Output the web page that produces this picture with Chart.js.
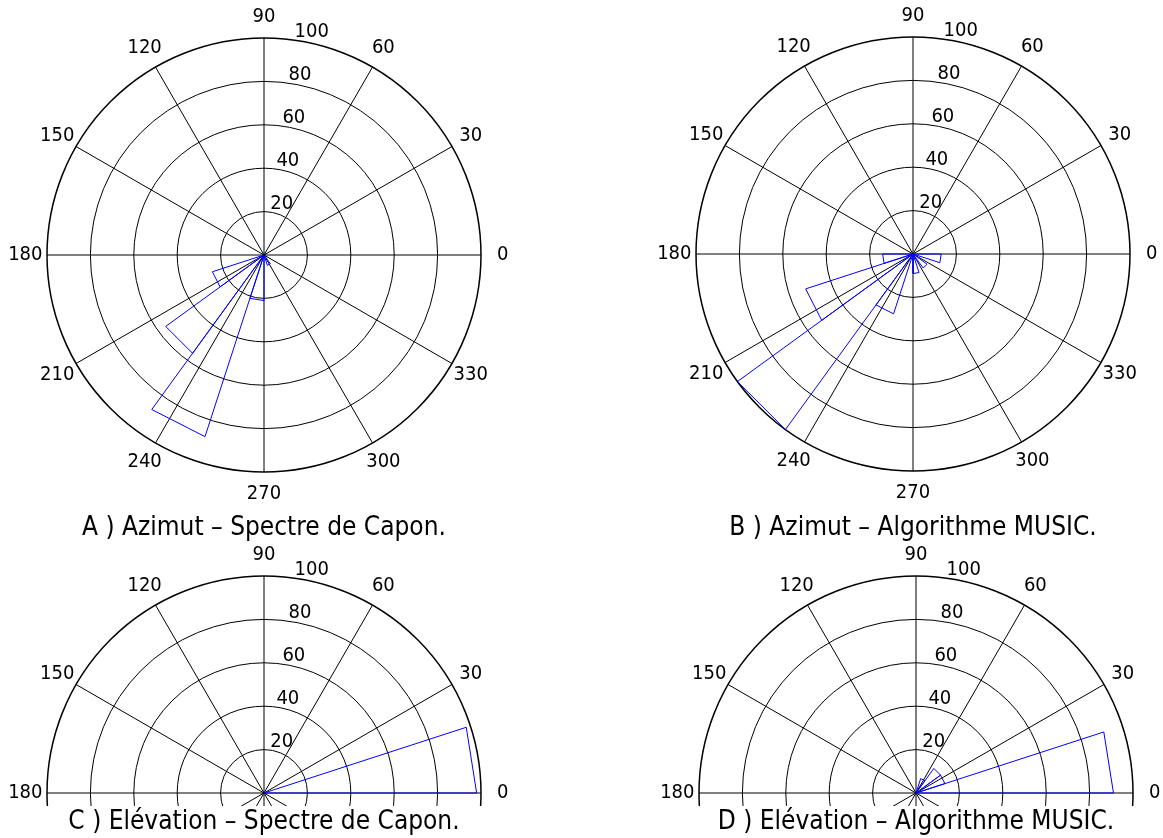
<!DOCTYPE html>
<html>
<head>
<meta charset="utf-8">
<script src="https://cdn.jsdelivr.net/npm/chart.js@4.4.0/dist/chart.umd.min.js"></script>
<style>
  body { margin:0; background:#fff; width:1163px; height:838px; position:relative; overflow:hidden;
         font-family:"DejaVu Sans Condensed","DejaVu Sans",sans-serif; }
  canvas { position:absolute; }
  .cap { position:absolute; font-size:26px; line-height:26px; white-space:nowrap; transform:translateX(-50%); color:#000; }
</style>
</head>
<body>
<canvas id="pa" width="560" height="520" style="left:0;top:0"></canvas>
<canvas id="pb" width="583" height="520" style="left:580px;top:0"></canvas>
<canvas id="pc" width="560" height="298" style="left:0;top:540px"></canvas>
<canvas id="pd" width="583" height="298" style="left:580px;top:540px"></canvas>
<div class="cap" style="left:264px;top:513px">A ) Azimut – Spectre de Capon.</div>
<div class="cap" style="left:913px;top:513px">B ) Azimut – Algorithme MUSIC.</div>
<div class="cap" style="left:264px;top:807px">C ) Elévation – Spectre de Capon.</div>
<div class="cap" style="left:916px;top:807px">D ) Elévation – Algorithme MUSIC.</div>
<script>
// rose histogram, 20 bins of 18 degrees
var binStart = [0,18,36,54,72,90,108,126,144,162,180,198,216,234,252,270,288,306,324,342];
var binWidth = 18;
var azimutCapon    = [0,0,0,0,0,0,0,0,0,0,0,25,56,88,21,0,5,0,0,0];
var azimutMusic    = [0,0,0,0,0,0,0,0,0,0,14,52,100,29,0,9,0,8,0,13];
var elevationCapon = [98,0,0,0,0,0,0,0,0,0,0,0,0,0,0,0,0,0,0,0];
var elevationMusic = [91,14,14,7,0,0,0,0,0,0,0,0,0,0,0,0,0,0,0,0];
var radialTicks = [20,40,60,80,100];
var angleTicksFull = [0,30,60,90,120,150,180,210,240,270,300,330];
var angleTicksHalf = [0,30,60,90,120,150,180];

var rMax = 100;
var radiusPx = 217;
var tickFont = '20px "DejaVu Sans Condensed", "DejaVu Sans", sans-serif';
var rad = Math.PI / 180;

function roseLine(values) {
  var pts = [];
  for (var i = 0; i < values.length; i++) {
    var v = values[i], a0 = binStart[i] * rad, a1 = (binStart[i] + binWidth) * rad;
    pts.push({x:0, y:0});
    pts.push({x:v * Math.cos(a0), y:v * Math.sin(a0)});
    pts.push({x:v * Math.cos(a1), y:v * Math.sin(a1)});
    pts.push({x:0, y:0});
  }
  return pts;
}

function polarGrid(angleTicks) {
  return {
    id: 'polarGrid',
    beforeDatasetsDraw: function(chart) {
      var ctx = chart.ctx, xs = chart.scales.x, ys = chart.scales.y, area = chart.chartArea;
      var cx = xs.getPixelForValue(0), cy = ys.getPixelForValue(0);
      var R = xs.getPixelForValue(rMax) - cx;
      ctx.save();
      ctx.beginPath();
      ctx.rect(area.left, area.top, area.right - area.left, area.bottom - area.top);
      ctx.clip();
      ctx.strokeStyle = '#000';
      radialTicks.forEach(function(t) {
        var r = xs.getPixelForValue(t) - cx;
        ctx.lineWidth = t === rMax ? 1.5 : 1;
        ctx.beginPath();
        ctx.arc(cx, cy, r, 0, 2 * Math.PI);
        ctx.stroke();
      });
      ctx.lineWidth = 1;
      for (var a = 0; a < 180; a += 30) {
        var dx = R * Math.cos(a * rad), dy = R * Math.sin(a * rad);
        ctx.beginPath();
        ctx.moveTo(cx - dx, cy + dy);
        ctx.lineTo(cx + dx, cy - dy);
        ctx.stroke();
      }
      ctx.restore();
    },
    afterDraw: function(chart) {
      var ctx = chart.ctx, xs = chart.scales.x, ys = chart.scales.y;
      ctx.save();
      ctx.fillStyle = '#000';
      ctx.font = tickFont;
      ctx.textAlign = 'center';
      ctx.textBaseline = 'middle';
      angleTicks.forEach(function(a) {
        var r = 1.1 * rMax;
        ctx.fillText(String(a), xs.getPixelForValue(r * Math.cos(a * rad)), ys.getPixelForValue(r * Math.sin(a * rad)));
      });
      ctx.textAlign = 'left';
      ctx.textBaseline = 'alphabetic';
      radialTicks.forEach(function(t) {
        var r = t + 1;
        ctx.fillText(String(t), xs.getPixelForValue(r * Math.cos(82 * rad)), ys.getPixelForValue(r * Math.sin(82 * rad)) - 1);
      });
      ctx.restore();
    }
  };
}

function makePolar(id, values, angleTicks, cxp, cyp, clipBottom) {
  var cv = document.getElementById(id);
  var W = cv.width, H = cv.height;
  var k = radiusPx / rMax;
  return new Chart(cv, {
    type: 'scatter',
    data: {
      datasets: [{
        data: roseLine(values),
        showLine: true,
        borderColor: '#0000ff',
        backgroundColor: '#0000ff',
        borderWidth: 1,
        pointRadius: 0,
        fill: false,
        tension: 0
      }]
    },
    options: {
      responsive: false,
      animation: false,
      layout: { padding: { left: 0, right: 0, top: 0, bottom: H - clipBottom } },
      plugins: { legend: { display: false }, tooltip: { enabled: false } },
      scales: {
        x: { type: 'linear', display: false, min: -cxp / k, max: (W - cxp) / k },
        y: { type: 'linear', display: false, min: -(clipBottom - cyp) / k, max: cyp / k }
      }
    },
    plugins: [polarGrid(angleTicks)]
  });
}

makePolar('pa', azimutCapon, angleTicksFull, 264, 255, 520);
makePolar('pb', azimutMusic, angleTicksFull, 333, 254, 520);
makePolar('pc', elevationCapon, angleTicksHalf, 264, 253, 266);
makePolar('pd', elevationMusic, angleTicksHalf, 336, 253, 266);
</script>
</body>
</html>
